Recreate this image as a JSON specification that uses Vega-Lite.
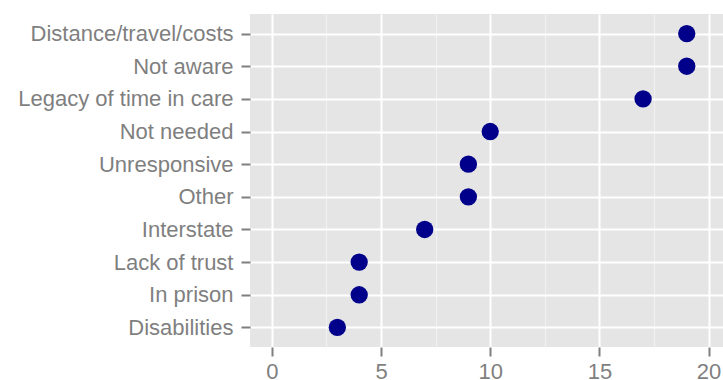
{
  "$schema": "https://vega.github.io/schema/vega-lite/v6.json",
  "width": 473,
  "height": 333,
  "autosize": {"type": "none"},
  "padding": {"left": 250, "top": 14, "right": 0, "bottom": 33},
  "background": "white",
  "config": {
    "view": {"fill": "#E5E5E5", "stroke": null},
    "axis": {
      "labelFont": "Arial",
      "labelFontSize": 22,
      "labelColor": "#7F7F7F",
      "tickColor": "#7F7F7F",
      "tickWidth": 2,
      "domain": false,
      "gridColor": "#FFFFFF",
      "gridWidth": 2,
      "title": null
    }
  },
  "data": {
    "values": [
      {"reason": "Distance/travel/costs", "count": 19},
      {"reason": "Not aware", "count": 19},
      {"reason": "Legacy of time in care", "count": 17},
      {"reason": "Not needed", "count": 10},
      {"reason": "Unresponsive", "count": 9},
      {"reason": "Other", "count": 9},
      {"reason": "Interstate", "count": 7},
      {"reason": "Lack of trust", "count": 4},
      {"reason": "In prison", "count": 4},
      {"reason": "Disabilities", "count": 3}
    ]
  },
  "layer": [
    {
      "mark": {"type": "point", "opacity": 0},
      "encoding": {
        "x": {
          "field": "count",
          "type": "quantitative",
          "scale": {"domain": [-1, 20.66], "nice": false, "zero": false},
          "axis": {
            "orient": "top",
            "values": [2.5, 7.5, 12.5, 17.5],
            "labels": false,
            "ticks": false,
            "grid": true,
            "gridColor": "#F2F2F2",
            "gridWidth": 1
          }
        },
        "y": {
          "field": "reason",
          "type": "nominal",
          "sort": null,
          "scale": {"type": "point", "padding": 0.6},
          "axis": {"grid": true, "tickSize": 9, "labelPadding": 8, "labelFontSize": 22, "labelFont": "Arial", "labelLimit": 300}
        }
      }
    },
    {
      "mark": {"type": "circle", "size": 300, "opacity": 1, "color": "#00008B"},
      "encoding": {
        "x": {
          "field": "count",
          "type": "quantitative",
          "scale": {"domain": [-1, 20.66], "nice": false, "zero": false},
          "axis": {
            "orient": "bottom",
            "values": [0, 5, 10, 15, 20],
            "grid": true,
            "tickSize": 9,
            "labelPadding": 5,
            "labelFontSize": 22,
            "labelFont": "Arial"
          }
        },
        "y": {
          "field": "reason",
          "type": "nominal",
          "sort": null,
          "scale": {"type": "point", "padding": 0.6}
        }
      }
    }
  ],
  "resolve": {"axis": {"x": "independent"}}
}
